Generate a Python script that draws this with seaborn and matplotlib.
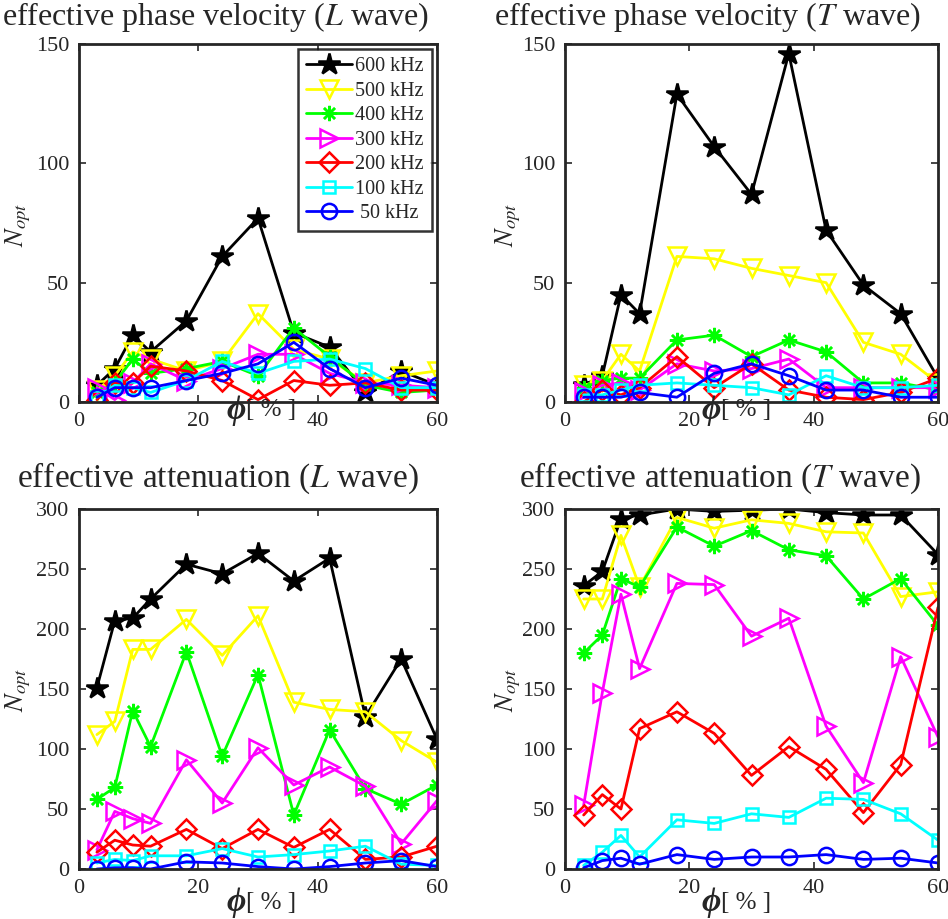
import seaborn as sns
import matplotlib.pyplot as plt
import pandas as pd

# porosity values (%)
phi = [3, 6, 9, 12, 18, 24, 30, 36, 42, 48, 54, 60]
freqs = ['600 kHz', '500 kHz', '400 kHz', '300 kHz', '200 kHz', '100 kHz', ' 50 kHz']

# N_opt, effective phase velocity, L wave
vel_L = {
    '600 kHz': [7, 14, 28, 21, 34, 61, 77, 29, 23, 4, 13, 7],
    '500 kHz': [5, 11, 21, 18, 13, 17, 37, 22, 18, 8, 11, 13],
    '400 kHz': [4, 8, 18, 12, 14, 17, 11, 31, 19, 7, 4, 5],
    '300 kHz': [6, 1, 8, 16, 9, 14, 20, 20, 12, 8, 7, 6],
    '200 kHz': [1, 8, 8, 15, 13, 9, 1, 9, 7, 8, 5, 5],
    '100 kHz': [2, 7, 6, 4, 9, 17, 12, 17, 18, 14, 6, 6],
    ' 50 kHz': [2, 6, 6, 6, 9, 12, 16, 25, 14, 6, 10, 7],
}
# N_opt, effective phase velocity, T wave
vel_T = {
    '600 kHz': [7, 11, 45, 37, 129, 107, 87, 146, 72, 49, 37, 10],
    '500 kHz': [7, 9, 20, 13, 61, 60, 56, 53, 50, 25, 20, 8],
    '400 kHz': [6, 9, 10, 10, 26, 28, 19, 26, 21, 8, 8, 5],
    '300 kHz': [4, 7, 8, 5, 16, 13, 14, 18, 6, 6, 6, 6],
    '200 kHz': [0, 5, 3, 6, 19, 6, 16, 5, 2, 1, 4, 10],
    '100 kHz': [3, 3, 5, 7, 8, 7, 6, 3, 11, 6, 6, 7],
    ' 50 kHz': [2, 2, 2, 4, 2, 12, 16, 11, 5, 5, 2, 2],
}
# N_opt, effective attenuation, L wave
att_L = {
    '600 kHz': [151, 207, 209, 225, 254, 246, 263, 240, 259, 127, 175, 108],
    '500 kHz': [112, 123, 183, 183, 208, 178, 211, 139, 133, 131, 107, 89],
    '400 kHz': [58, 68, 132, 102, 181, 94, 162, 45, 116, 67, 54, 70],
    '300 kHz': [16, 48, 42, 38, 91, 55, 101, 70, 85, 69, 21, 57],
    '200 kHz': [14, 24, 20, 19, 33, 17, 33, 18, 33, 8, 10, 19],
    '100 kHz': [5, 8, 7, 11, 11, 17, 10, 12, 15, 19, 4, 3],
    ' 50 kHz': [0, 1, 1, 0, 6, 5, 2, 0, 2, 5, 7, 2],
}
# N_opt, effective attenuation, T wave
att_T = {
    '600 kHz': [236, 248, 292, 295, 300, 298, 299, 300, 297, 295, 295, 262],
    '500 kHz': [225, 225, 278, 235, 293, 284, 291, 288, 281, 280, 227, 231],
    '400 kHz': [180, 195, 242, 235, 285, 269, 282, 266, 261, 225, 242, 203],
    '300 kHz': [53, 147, 229, 167, 238, 237, 194, 209, 119, 72, 177, 110],
    '200 kHz': [45, 62, 50, 117, 131, 113, 78, 102, 83, 47, 87, 218],
    '100 kHz': [3, 14, 28, 10, 41, 38, 46, 43, 59, 58, 46, 24],
    ' 50 kHz': [1, 7, 9, 4, 12, 8, 10, 10, 12, 8, 9, 5],
}

colors = ['#000000', '#ffff00', '#00ff00', '#ff00ff', '#ff0000', '#00ffff', '#0000ff']
markers = ['*', 'v', (8, 2, 0), '>', 'D', 's', 'o']
msizes = [16, 12.5, 11, 12.5, 10, 9, 11]

sns.set_style('ticks')
plt.rcParams['font.family'] = ['Liberation Serif', 'DejaVu Serif']
plt.rcParams['mathtext.fontset'] = 'stix'

fig = plt.figure(figsize=(9.48, 9.19), dpi=100)
W, H = 948, 919

panels = [
    (vel_L, [79, 44, 437, 402], 150, r'effective phase velocity ($L$ wave)', (216, 17), 23, (18, 225), (246, 410)),
    (vel_T, [565, 44, 938, 402], 150, r'effective phase velocity ($T$ wave)', (708, 17), 23, (508, 225), (721, 410)),
    (att_L, [79, 509, 437, 869], 300, r'effective attenuation ($L$ wave)', (218, 478), 24, (18, 690), (246, 903)),
    (att_T, [565, 509, 938, 869], 300, r'effective attenuation ($T$ wave)', (720, 478), 24, (508, 690), (721, 903)),
]

for i, (data, box, ymax, title, tpos, tsize, ypos, xpos) in enumerate(panels):
    x0, y0, x1, y1 = box
    ax = fig.add_axes([x0 / W, 1 - y1 / H, (x1 - x0) / W, (y1 - y0) / H])
    for f, c, m, ms in zip(freqs, colors, markers, msizes):
        face = c if m == '*' else 'none'
        sns.lineplot(x=phi, y=data[f], ax=ax, color=c, marker=m, markersize=ms,
                     markerfacecolor=face, markeredgecolor=c, markeredgewidth=1.8,
                     linewidth=2, label=f, legend=False)
    ax.set_xlim(0, 60)
    ax.set_ylim(0, ymax)
    ax.set_xticks([0, 20, 40, 60])
    ax.set_yticks(range(0, ymax + 1, 50))
    ax.tick_params(direction='in', length=5, width=1.2, top=True, right=True,
                   labelsize=16, pad=7)
    for s in ax.spines.values():
        s.set_linewidth(2)
    fig.text(tpos[0] / W, 1 - tpos[1] / H, title, fontsize=tsize, ha='center', va='center')
    fig.text(ypos[0] / W, 1 - ypos[1] / H, r'$N_{opt}$', fontsize=19, rotation=90,
             ha='center', va='center')
    fig.text(xpos[0] / W, 1 - xpos[1] / H, 'ϕ', fontsize=24, fontweight='bold',
             fontstyle='italic', ha='right', va='center')
    fig.text(xpos[0] / W, 1 - xpos[1] / H, '[ % ]', fontsize=18, ha='left', va='center')
    if i == 0:
        leg = ax.legend(loc='upper right', fontsize=14.5, frameon=True, fancybox=False,
                        edgecolor='black', handlelength=2.3, borderpad=0.4,
                        labelspacing=0.27, handletextpad=0.15, borderaxespad=0.25)
        leg.get_frame().set_linewidth(1.8)

fig.savefig('out.png', dpi=100)
